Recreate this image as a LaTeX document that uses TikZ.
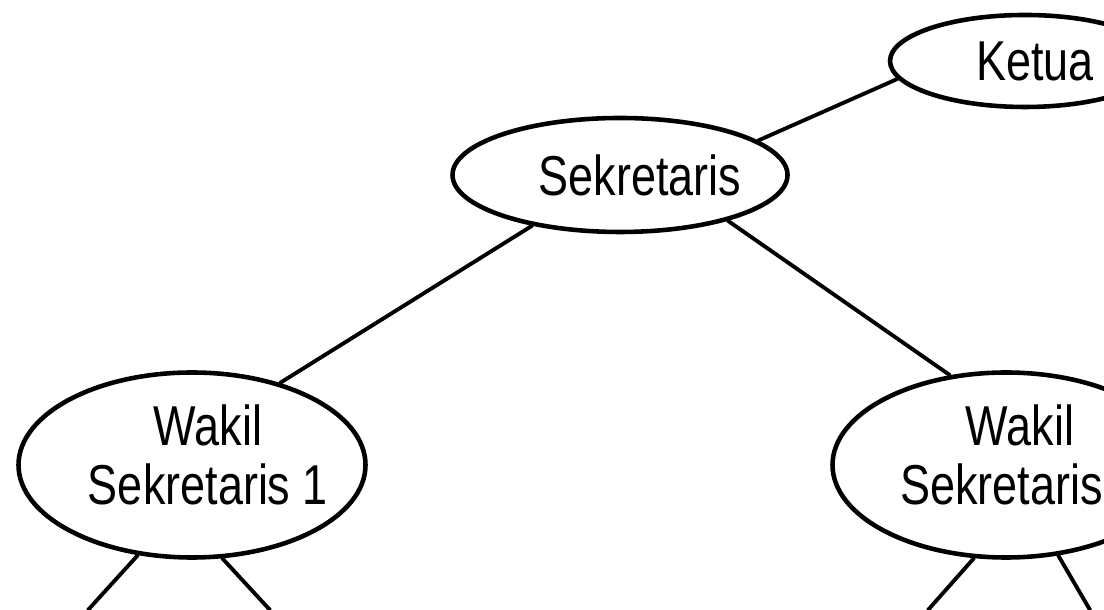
\documentclass[tikz,border=0pt]{standalone}
\usepackage{fontspec}
\setmainfont{Liberation Sans}[FakeStretch=0.8]
\usetikzlibrary{shapes.geometric}

\begin{document}
\begin{tikzpicture}[line cap=round,
  jabatan/.style={draw,ellipse,line width=1.3pt,inner sep=0pt},
  teks/.style={align=center,inner sep=0pt,font=\fontsize{16}{17}\selectfont},
  garis/.style={line width=1.1pt}]
\useasboundingbox (0,0) rectangle (11.04,6.10);
\clip (0,0) rectangle (11.04,6.10);
\node[jabatan,minimum width=2.7cm,minimum height=0.92cm,label={[teks,xshift=1mm]center:Ketua}] (ketua) at (10.25,5.49) {};
\node[jabatan,minimum width=3.35cm,minimum height=1.14cm,label={[teks,xshift=2mm]center:Sekretaris}] (sekr) at (6.20,4.35) {};
\node[jabatan,minimum width=3.47cm,minimum height=1.85cm,label={[teks,xshift=1.6mm,yshift=1mm]center:Wakil\\Sekretaris 1}] (wakil1) at (1.92,1.45) {};
\node[jabatan,minimum width=3.47cm,minimum height=1.85cm,label={[teks,xshift=1.4mm,yshift=1mm]center:Wakil\\Sekretaris\phantom{ 2}}] (wakil2) at (10.06,1.45) {};
\coordinate (w1a) at (0.88,0);
\coordinate (w1b) at (2.70,0);
\coordinate (w2a) at (9.28,0);
\coordinate (w2b) at (10.90,0);
\draw[garis] (ketua.188.8) -- (sekr.14);
\draw[garis] (sekr.210.5) -- (wakil1.43);
\draw[garis] (sekr.337) -- (wakil2.122);
\draw[garis] (wakil1.239) -- (w1a);
\draw[garis] (wakil1.288) -- (w1b);
\draw[garis] (wakil2.251.6) -- (w2a);
\draw[garis] (wakil2.300.4) -- (w2b);
\end{tikzpicture}
\end{document}
